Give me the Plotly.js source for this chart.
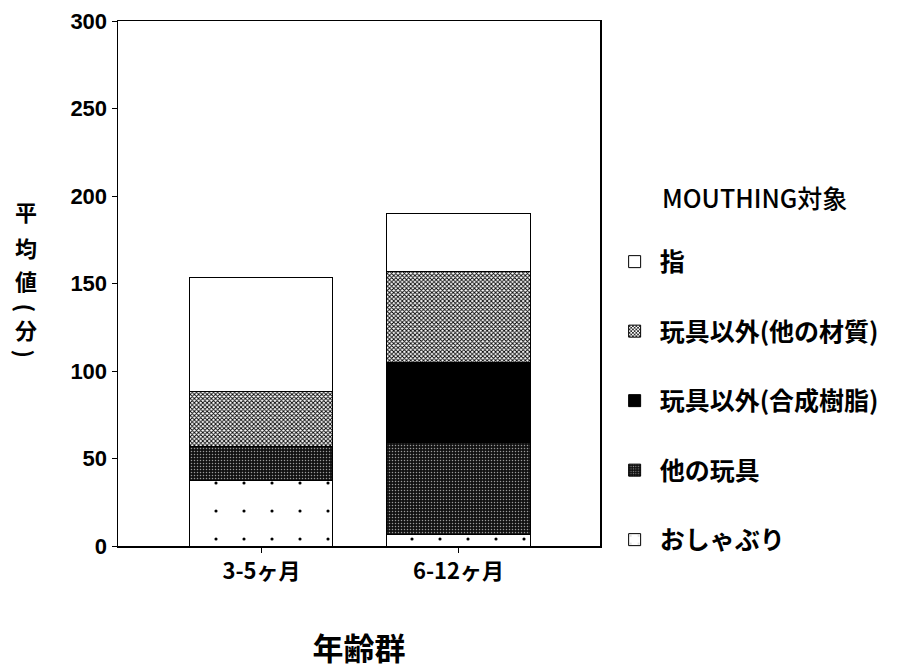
<!DOCTYPE html>
<html>
<head>
<meta charset="utf-8">
<script src="https://cdn.plot.ly/plotly-3.0.1.min.js"></script>
<style>html,body{margin:0;padding:0;background:#fff;}#chart{width:897px;height:669px;}</style>
</head>
<body>
<div id="chart"></div>
<script>
// Data (bottom to top of the stack)
const categories = ['3-5ヶ月', '6-12ヶ月'];
const seriesNames = ['おしゃぶり', '他の玩具', '玩具以外(合成樹脂)', '玩具以外(他の材質)', '指'];
const pacifier = [37.3, 6.7];
const otherToys = [19.3, 52.2];
const nonToySynthetic = [0, 46.2];
const nonToyOther = [31.8, 51.9];
const finger = [64.9, 32.8];
const yTicks = [0, 50, 100, 150, 200, 250, 300];
// y-axis title "平均値(分)", written vertically
const yTitleChars = ['平', '均', '値', '(', '分', ')'];
const yTitleCharPos = [0.638, 0.570, 0.506, 0.453, 0.414, 0.366];
const yTitleCharAngle = [0, 0, 0, 90, 0, 90];

const seriesValues = [pacifier, otherToys, nonToySynthetic, nonToyOther, finger];
const styles = [
  {color: '#ffffff', pattern: {shape: '.', fgcolor: '#000', bgcolor: '#fff', size: 28, solidity: 0.01}},
  {color: '#1a1a1a', pattern: {shape: '.', fgcolor: '#9a9a9a', bgcolor: '#111', size: 3, solidity: 0.2}},
  {color: '#000000'},
  {color: '#888888', pattern: {shape: 'x', fgcolor: '#000', bgcolor: '#fff', size: 3, solidity: 0.5}},
  {color: '#ffffff'}
];

const jp = '"Noto Sans CJK JP", "Noto Sans", sans-serif';
const traces = seriesNames.map((name, i) => ({
  type: 'bar',
  name: name,
  x: categories,
  y: seriesValues[i],
  width: 0.726,
  legendgroup: 'g' + i,
  legendrank: 100 - i,
  marker: Object.assign({line: {color: '#000', width: 1}}, styles[i]),
  hoverinfo: 'x+y+name'
}));

const annotations = [
  {text: 'MOUTHING対象', xref: 'paper', yref: 'paper', x: 1.32, y: 0.665,
   xanchor: 'center', yanchor: 'middle', showarrow: false,
   font: {family: jp, size: 25, weight: 500, color: '#000'}}
];
yTitleChars.forEach((c, i) => annotations.push({
  text: c, xref: 'paper', yref: 'paper', x: -0.19, y: yTitleCharPos[i],
  xanchor: 'center', yanchor: 'middle', showarrow: false, textangle: yTitleCharAngle[i],
  font: {family: jp, size: 22, weight: 'bold', color: '#000'}
}));

const layout = {
  width: 897, height: 669,
  margin: {l: 118, r: 297, t: 21, b: 123},
  paper_bgcolor: '#fff', plot_bgcolor: '#fff',
  barmode: 'stack',
  font: {family: jp, color: '#000'},
  xaxis: {
    type: 'category',
    range: [-0.728, 1.718],
    showline: true, linecolor: '#000', linewidth: 1.5, mirror: true,
    ticks: 'outside', ticklen: 5, tickcolor: '#000',
    showgrid: false, zeroline: false,
    tickfont: {family: jp, size: 22, weight: 'bold'},
    title: {text: '年齢群', font: {family: jp, size: 31, weight: 'bold'}, standoff: 56}
  },
  yaxis: {
    range: [0, 300],
    tickvals: yTicks,
    showline: true, linecolor: '#000', linewidth: 1.5, mirror: true,
    ticks: 'outside', ticklen: 5, tickcolor: '#000',
    showgrid: false, zeroline: false,
    tickfont: {family: '"Liberation Sans", Arial, sans-serif', size: 22, weight: 'bold'}
  },
  showlegend: true,
  legend: {
    x: 1.02, xanchor: 'left', y: 0.585, yanchor: 'top',
    traceorder: 'grouped',
    tracegroupgap: 34,
    font: {family: jp, size: 25, weight: 'bold'},
    bgcolor: 'rgba(0,0,0,0)',
    itemwidth: 40
  },
  annotations: annotations
};

Plotly.newPlot('chart', traces, layout, {displayModeBar: false, staticPlot: true});
</script>
</body>
</html>
